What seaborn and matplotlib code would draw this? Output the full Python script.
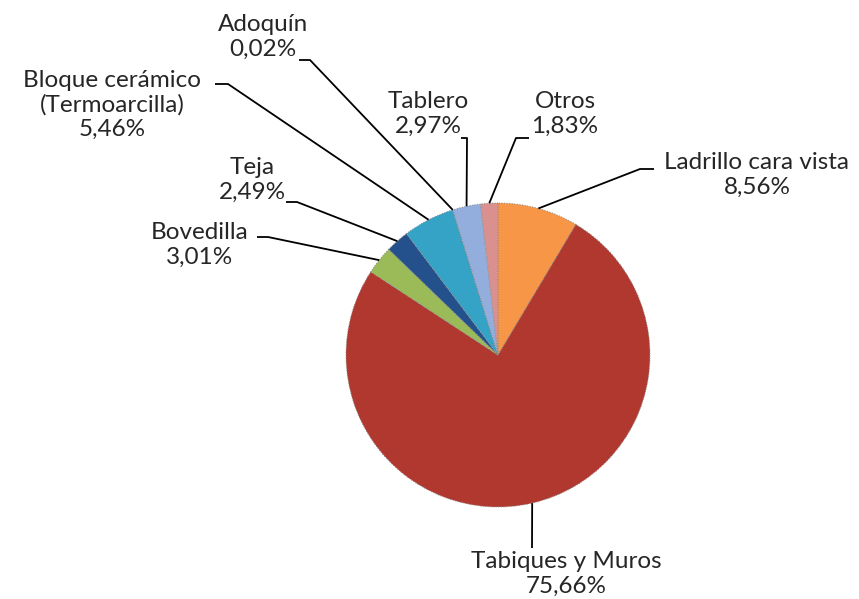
import numpy as np
import matplotlib
matplotlib.use("Agg")
import matplotlib.pyplot as plt
import seaborn as sns

# Datos del gráfico (sentido horario desde arriba)
categorias = ["Ladrillo cara vista", "Tabiques y Muros", "Bovedilla", "Teja",
              "Bloque cerámico\n(Termoarcilla)", "Adoquín", "Tablero", "Otros"]
porcentajes = [8.56, 75.66, 3.01, 2.49, 5.46, 0.02, 2.97, 1.83]
colores = ["#F79646", "#B0382F", "#9BBB59", "#24508C", "#35A3C6", "#4BACC6", "#93AEDD", "#D9908E"]

# posición de las etiquetas (px, y hacia arriba) y tramo corto de la línea guía
pos_texto = [(757, 424), (566, 25), (200, 354), (252, 419),
             (112, 494), (263, 562), (428, 485), (565, 485)]
guia = [[(654, 430), (640, 430)], [(532, 51), (532, 51)], [(257, 362), (268, 362)],
        [(286, 397), (297, 397)], [(215, 515), (228, 515)], [(299, 539), (310, 539)],
        [(461, 461), (467, 461)], [(529, 461), (516, 461)]]

sns.set_theme(style="white")
plt.rcParams['font.family'] = ['Lato', 'DejaVu Sans']

fig = plt.figure(figsize=(8.59, 5.99), dpi=100)
ax = fig.add_axes([0, 0, 1, 1])

wedges, _ = ax.pie(porcentajes, colors=colores, startangle=90, counterclock=False,
                   radius=152, center=(498, 244),
                   wedgeprops=dict(edgecolor="#8a8a8a", linewidth=0.7, linestyle=":"))

for w, cat, val, (tx, ty), g in zip(wedges, categorias, porcentajes, pos_texto, guia):
    ang = np.deg2rad((w.theta1 + w.theta2) / 2)
    ex = w.center[0] + w.r * np.cos(ang)
    ey = w.center[1] + w.r * np.sin(ang)
    xs = [g[0][0], g[1][0], ex]
    ys = [g[0][1], g[1][1], ey]
    ax.plot(xs, ys, color="black", lw=1.3, solid_capstyle="butt")
    etiqueta = cat + "\n" + f"{val:.2f}".replace(".", ",") + "%"
    ax.text(tx, ty, etiqueta, ha="center", va="center", fontsize=17.5,
            color="#262626", linespacing=1.2)

ax.set_xlim(0, 859)
ax.set_ylim(0, 599)
ax.set_aspect("equal")
ax.axis("off")

fig.savefig("out.png", dpi=100)
